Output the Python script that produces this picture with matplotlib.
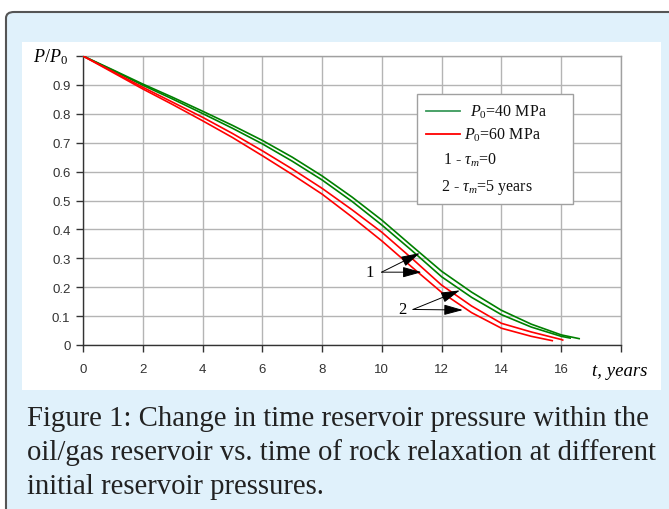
import matplotlib
matplotlib.use("Agg")
import matplotlib.pyplot as plt
from matplotlib.patches import FancyBboxPatch, Rectangle
from matplotlib.lines import Line2D

plt.rcParams['mathtext.fontset'] = 'custom'
plt.rcParams['mathtext.rm'] = 'Liberation Serif'
plt.rcParams['mathtext.it'] = 'Liberation Serif:italic'

# ---- data ----
t_g1 = [0, 1, 2, 3, 4, 5, 6, 7, 8, 9, 10, 11, 12, 13, 14, 15, 16, 16.6]
v_g1 = [1.0, .952, .903, .857, .809, .760, .708, .650, .585, .512, .432, .343, .255, .183, .120, .072, .035, .022]
t_g2 = [0, 1, 2, 3, 4, 5, 6, 7, 8, 9, 10, 11, 12, 13, 14, 15, 16, 16.3]
v_g2 = [1.0, .950, .899, .851, .801, .750, .696, .636, .571, .497, .415, .327, .236, .165, .105, .062, .030, .024]
t_r1 = [0, 1, 2, 3, 4, 5, 6, 7, 8, 9, 10, 11, 12, 13, 14, 15, 16, 16.05]
v_r1 = [1.0, .946, .892, .840, .788, .732, .672, .609, .542, .468, .390, .300, .207, .135, .075, .045, .019, .017]
t_r2 = [0, 1, 2, 3, 4, 5, 6, 7, 8, 9, 10, 11, 12, 13, 14, 15, 15.7]
v_r2 = [1.0, .943, .886, .832, .776, .718, .655, .590, .522, .443, .360, .270, .182, .112, .058, .030, .015]

x_ticks = [0, 2, 4, 6, 8, 10, 12, 14, 16, 18]
x_labels = ['0', '2', '4', '6', '8', '10', '12', '14', '16', '']
y_ticks = [0, 0.1, 0.2, 0.3, 0.4, 0.5, 0.6, 0.7, 0.8, 0.9, 1.0]
y_labels = ['0', '0.1', '0.2', '0.3', '0.4', '0.5', '0.6', '0.7', '0.8', '0.9', '']

legend_labels = [r'$P_0$=40 MPa', r'$P_0$=60 MPa', r'1 - $\tau_m$=0', r'2 - $\tau_m$=5 years']
caption_lines = ["Figure 1: Change in time reservoir pressure within the",
                 "oil/gas reservoir vs. time of rock relaxation at different",
                 "initial reservoir pressures."]

GREEN = '#008000'
RED = '#ff0000'

W, H = 669, 510
fig = plt.figure(figsize=(W / 100, H / 100), dpi=100)
fig.patch.set_facecolor('white')

def fx(x):
    return x / W

def fy(y):
    return 1 - y / H

# outer light-blue frame with dark border
frame = FancyBboxPatch((fx(6), fy(530)), fx(700) - fx(6), fy(13) - fy(530),
                       boxstyle="round,pad=0,rounding_size=0.012",
                       transform=fig.transFigure, facecolor='#e0f1fb',
                       edgecolor='#555555', linewidth=1.5, zorder=0)
fig.patches.append(frame)
# white panel
panel = Rectangle((fx(22), fy(391)), fx(661) - fx(22), fy(43) - fy(391),
                  transform=fig.transFigure, facecolor='white',
                  edgecolor='none', zorder=0.5)
fig.patches.append(panel)

ax = fig.add_axes([fx(83), fy(346), fx(621) - fx(83), fy(57) - fy(346)])
ax.set_zorder(2)
ax.set_facecolor('white')
ax.set_xlim(0, 18)
ax.set_ylim(0, 1)

ax.plot(t_g1, v_g1, color=GREEN, lw=1.2, zorder=3)
ax.plot(t_g2, v_g2, color=GREEN, lw=1.2, zorder=3)
ax.plot(t_r1, v_r1, color=RED, lw=1.2, zorder=3)
ax.plot(t_r2, v_r2, color=RED, lw=1.2, zorder=3)

ax.set_xticks(x_ticks)
ax.set_xticklabels(x_labels)
ax.set_yticks(y_ticks)
ax.set_yticklabels(y_labels)
for lab in ax.get_xticklabels() + ax.get_yticklabels():
    lab.set_family('Liberation Sans')
    lab.set_fontsize(9.5)
    lab.set_color('#333333')
ax.tick_params(axis='both', direction='out', length=5, width=1, color='#333333')
ax.tick_params(axis='x', pad=8)
ax.tick_params(axis='y', pad=4)
ax.grid(True, color='#b4b4b4', lw=1)
ax.set_axisbelow(True)
for s in ['top', 'right']:
    ax.spines[s].set_color('#a0a0a0')
    ax.spines[s].set_linewidth(1)
for s in ['left', 'bottom']:
    ax.spines[s].set_color('#333333')
    ax.spines[s].set_linewidth(1)

# axis labels
fig.text(fx(33), fy(57), r'$P/P_0$', fontsize=13, ha='left', va='center', zorder=5)
fig.text(fx(620), fy(372), 't, years', fontsize=13.5, family='Liberation Serif',
         style='italic', ha='center', va='center', zorder=5)

# manual legend
leg_box = Rectangle((0.621, 0.488), 0.911 - 0.621, 0.869 - 0.488,
                    transform=ax.transAxes, facecolor='white',
                    edgecolor='#a0a0a0', lw=1, zorder=5)
ax.add_patch(leg_box)
ax.add_line(Line2D([0.638, 0.700], [0.810, 0.810], transform=ax.transAxes,
                   color='#3a9a5c', lw=1.3, zorder=6))
ax.add_line(Line2D([0.638, 0.700], [0.730, 0.730], transform=ax.transAxes,
                   color=RED, lw=1.3, zorder=6))
lf = dict(transform=ax.transAxes, fontsize=11.5, family='Liberation Serif',
          va='center', ha='left', zorder=7, color='#111111')
ax.text(0.719, 0.810, legend_labels[0], **lf)
ax.text(0.708, 0.730, legend_labels[1], **lf)
ax.text(0.669, 0.644, legend_labels[2], **lf)
ax.text(0.665, 0.550, legend_labels[3], **lf)

# annotations 1 and 2
aprops = dict(arrowstyle='-|>,head_length=0.9,head_width=0.25', color='black',
              lw=0.7, shrinkA=0, shrinkB=0, mutation_scale=13)
ax.annotate('', xy=(11.27, 0.318), xytext=(9.99, 0.252), arrowprops=aprops, zorder=8)
ax.annotate('', xy=(11.33, 0.252), xytext=(9.99, 0.252), arrowprops=aprops, zorder=8)
ax.text(9.6, 0.252, '1', fontsize=12, family='Liberation Serif', ha='center', va='center')
ax.annotate('', xy=(12.61, 0.189), xytext=(11.04, 0.123), arrowprops=aprops, zorder=8)
ax.annotate('', xy=(12.71, 0.121), xytext=(11.04, 0.123), arrowprops=aprops, zorder=8)
ax.text(10.67, 0.125, '2', fontsize=12, family='Liberation Serif', ha='center', va='center')

# caption
for i, line in enumerate(caption_lines):
    fig.text(fx(27), fy(419 + 34 * i), line, fontsize=20.7, family='Liberation Serif',
             color='#222222', ha='left', va='center', zorder=5)

fig.savefig('out.png', dpi=100, facecolor=fig.get_facecolor())
